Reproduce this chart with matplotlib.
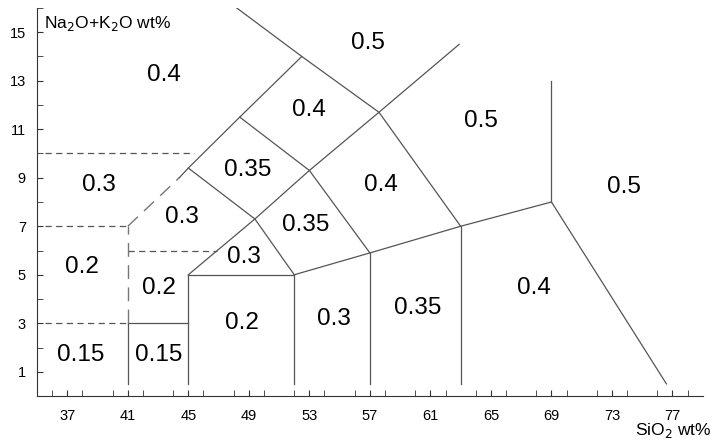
import matplotlib.pyplot as plt
from matplotlib.ticker import MultipleLocator

plt.rcParams['font.family'] = ['Liberation Sans', 'DejaVu Sans']

# solid boundary lines (SiO2, Na2O+K2O)
solid_lines = [
    ([41, 41], [0.5, 3]),
    ([41, 45], [3, 3]),
    ([45, 45], [0.5, 5]),
    ([45, 52], [5, 5]),
    ([52, 52], [0.5, 5]),
    ([57, 57], [0.5, 5.9]),
    ([63, 63], [0.5, 7]),
    ([52, 57, 63, 69], [5, 5.9, 7, 8]),
    ([69, 69], [8, 13]),
    ([69, 76.6], [8, 0.5]),
    ([44.4, 45, 48.4, 52.5], [9.0, 9.4, 11.5, 14]),
    ([45, 49.4, 53, 57.6, 62.9], [5, 7.3, 9.3, 11.7, 14.5]),
    ([45, 49.4, 52], [9.4, 7.3, 5]),
    ([48.4, 53, 57], [11.5, 9.3, 5.9]),
    ([48.2, 52.5, 57.6, 63], [16, 14, 11.7, 7]),
]

# dashed lines
dashed_lines = [
    ([35.5, 45.4], [10, 10]),
    ([35.5, 41], [7, 7]),
    ([35.5, 41], [3, 3]),
    ([41, 46.9], [6, 6]),
]
long_dashed = [
    ([41, 41], [3, 7]),
    ([41, 44.4], [7, 9.0]),
]

labels = ["0.4", "0.5", "0.4", "0.35", "0.3", "0.3", "0.35", "0.4", "0.5", "0.5",
          "0.3", "0.2", "0.2", "0.2", "0.3", "0.35", "0.4", "0.15", "0.15"]
label_x = [43.4, 56.85, 52.95, 48.92, 39.1, 44.6, 52.77, 57.73, 64.34, 73.8,
           48.7, 38.0, 43.04, 48.55, 54.65, 60.15, 67.87, 37.9, 43.04]
label_y = [13.24, 14.55, 11.8, 9.32, 8.7, 7.4, 7.05, 8.7, 11.32, 8.63,
           5.75, 5.33, 4.44, 3.02, 3.16, 3.62, 4.44, 1.69, 1.69]

fig = plt.figure(figsize=(7.12, 4.42), dpi=100)
ax = fig.add_axes([0.052, 0.104, 0.935, 0.878])

for xs, ys in solid_lines:
    ax.plot(xs, ys, color='#555555', lw=0.9)
for xs, ys in dashed_lines:
    ax.plot(xs, ys, color='#555555', lw=0.9, dashes=(5, 3.5))
for xs, ys in long_dashed:
    ax.plot(xs, ys, color='#777777', lw=1.0, dashes=(10, 6))

for t, x, y in zip(labels, label_x, label_y):
    ax.text(x, y, t, fontsize=17.5, ha='center', va='center')

ax.set_xlim(35, 79)
ax.set_ylim(0, 16)
ax.set_xticks(range(37, 78, 4))
ax.xaxis.set_minor_locator(MultipleLocator(2))
ax.set_yticks(range(1, 16, 2))
ax.yaxis.set_minor_locator(MultipleLocator(1))
ax.tick_params(which='both', direction='in', labelsize=10.5, color='#333333',
               length=4)
ax.tick_params(axis='x', pad=9)
ax.tick_params(axis='y', pad=8)
for s in ['top', 'right']:
    ax.spines[s].set_visible(False)
for s in ['left', 'bottom']:
    ax.spines[s].set_color('#333333')

ax.text(0.01, 0.985, 'Na$_2$O+K$_2$O wt%', transform=ax.transAxes,
        fontsize=12.5, ha='left', va='top')
fig.text(0.999, 0.025, 'SiO$_2$ wt%', fontsize=12.5, ha='right', va='center')

fig.savefig('out.png', dpi=100)
